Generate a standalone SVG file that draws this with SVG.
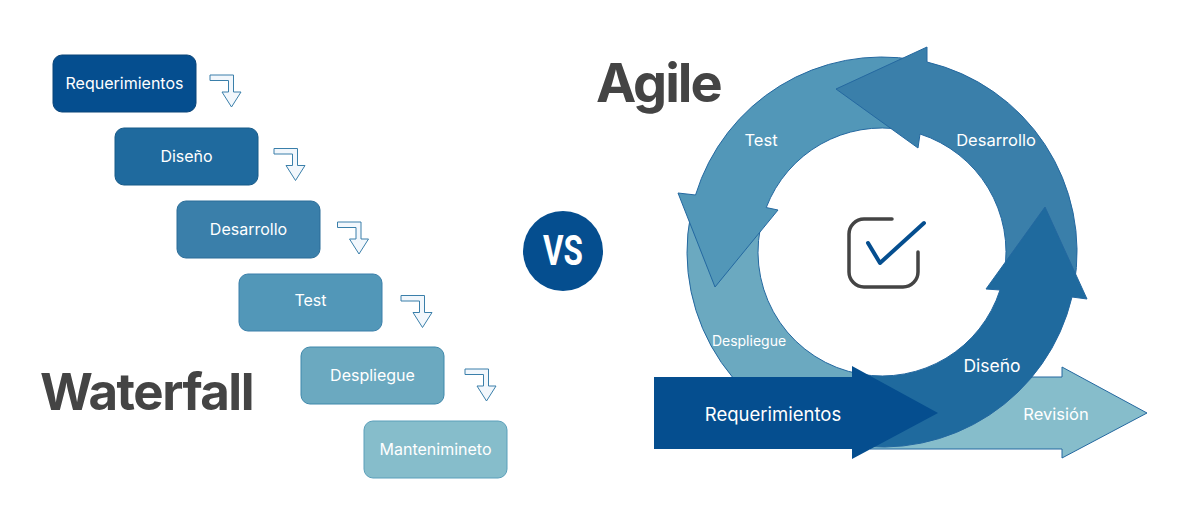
<svg xmlns="http://www.w3.org/2000/svg" width="1200" height="523" viewBox="0 0 1200 523">
<style>
.box{stroke-width:1}
.bt{font-family:Inter,"Noto Sans",sans-serif;font-size:16px;fill:#ffffff;text-anchor:middle}
.lbl{font-family:Inter,"Noto Sans",sans-serif;fill:#ffffff;text-anchor:middle}
.title{font-family:Inter,"Noto Sans",sans-serif;font-weight:700;fill:#444444}
.seg{stroke:#2468a0;stroke-width:1;stroke-linejoin:miter}
.bend{fill:#f2f7fc;stroke:#3a7faa;stroke-width:1}
</style>
<defs>
<path id="bend" d="M0,0 H23.5 V17 H31 L21.5,32 L12,17 H18.5 V5.5 H0 Z"/>
</defs>
<rect width="1200" height="523" fill="#ffffff"/>

<!-- Waterfall -->
<g id="waterfall-title"><text class="title" x="40" y="410" font-size="51" letter-spacing="-1.5">Waterfall</text></g>
<g id="wf-requerimientos"><rect class="box" x="53" y="55" width="143" height="57" rx="9" fill="#054e8f" stroke="#0a4478"/><text class="bt" x="124.5" y="89">Requerimientos</text></g>
<g id="wf-diseno"><rect class="box" x="115" y="128" width="143" height="57" rx="9" fill="#1f6a9e" stroke="#175a88"/><text class="bt" x="186.5" y="162">Diseño</text></g>
<g id="wf-desarrollo"><rect class="box" x="177" y="201" width="143" height="57" rx="9" fill="#3a7faa" stroke="#2b6d98"/><text class="bt" x="248.5" y="235">Desarrollo</text></g>
<g id="wf-test"><rect class="box" x="239" y="274" width="143" height="57" rx="9" fill="#5297b8" stroke="#3a7faa"/><text class="bt" x="310.5" y="306">Test</text></g>
<g id="wf-despliegue"><rect class="box" x="301" y="347" width="143" height="57" rx="9" fill="#6ba9c0" stroke="#3f88ab"/><text class="bt" x="372.5" y="381">Despliegue</text></g>
<g id="wf-mantenimiento"><rect class="box" x="364" y="421" width="143" height="57" rx="9" fill="#86bdcb" stroke="#5a9fba"/><text class="bt" x="435.5" y="455">Mantenimineto</text></g>

<g id="connectors">
<use href="#bend" class="bend" x="210" y="75"/>
<use href="#bend" class="bend" x="274" y="148.5"/>
<use href="#bend" class="bend" x="337.5" y="222"/>
<use href="#bend" class="bend" x="401" y="295.5"/>
<use href="#bend" class="bend" x="465" y="369"/>
</g>

<!-- VS -->
<g id="vs"><circle cx="563" cy="251" r="40" fill="#054e8f"/><text x="563" y="265" font-family="Roboto,'Liberation Sans',sans-serif" font-weight="700" font-size="42" fill="#ffffff" text-anchor="middle" textLength="40" lengthAdjust="spacingAndGlyphs">VS</text></g>

<!-- Agile -->
<g id="agile-title"><text class="title" x="596" y="102" font-size="54" letter-spacing="-2">Agile</text></g>

<g id="ag-revision">
<path class="seg" d="M870,377 H1062 V367 L1147,413 L1062,458 V449 H870 Z" fill="#86bdcb"/>
<text class="lbl" x="1056" y="420" font-size="16.5">Revisión</text>
</g>
<g id="ag-despliegue">
<path class="seg" d="M690.58,214.79 A195,195 0 0 0 848.14,444.04 L860.47,374.12 A124,124 0 0 1 760.28,228.34 Z" fill="#6ba9c0"/>
<text class="lbl" x="749" y="346" font-size="14">Despliegue</text>
</g>
<g id="ag-test">
<path class="seg" d="M915.86,59.96 A195,195 0 0 0 695.52,194.99 L678,193 L715,287 L778,210 L766.24,207.56 A124,124 0 0 1 903.53,129.88 Z" fill="#5297b8"/>
<text class="lbl" x="761" y="146" font-size="16.5">Test</text>
</g>
<g id="ag-desarrollo">
<path class="seg" d="M1074.04,285.86 A195,195 0 0 0 927,62 L927,47 L836,89 L918,148 L920,134 A124,124 0 0 1 1004.12,273.53 Z" fill="#3a7faa"/>
<text class="lbl" x="996" y="146" font-size="16.5">Desarrollo</text>
</g>
<g id="ag-diseno">
<path class="seg" d="M848.14,444.04 A195,195 0 0 0 1072,297 L1087,299 L1045,207 L986,289 L1000,290 A124,124 0 0 1 860.47,374.12 Z" fill="#1f6a9e"/>
<text class="lbl" x="992" y="372" font-size="17.5">Diseño</text>
</g>
<g id="ag-requerimientos">
<path d="M654,377 H852 V366 L938,413 L852,459 V449 H654 Z" fill="#054e8f"/>
<text class="lbl" x="773" y="421" font-size="18.5">Requerimientos</text>
</g>

<g id="check-icon">
<path d="M892,219 H864 A15,15 0 0 0 849,234 V272 A15,15 0 0 0 864,287 H903 A15,15 0 0 0 918,272 V252" fill="none" stroke="#444444" stroke-width="3.5" stroke-linecap="round"/>
<path d="M868,243 L880,263 L924,223" fill="none" stroke="#054e8f" stroke-width="4" stroke-linecap="round" stroke-linejoin="round"/>
</g>
</svg>
